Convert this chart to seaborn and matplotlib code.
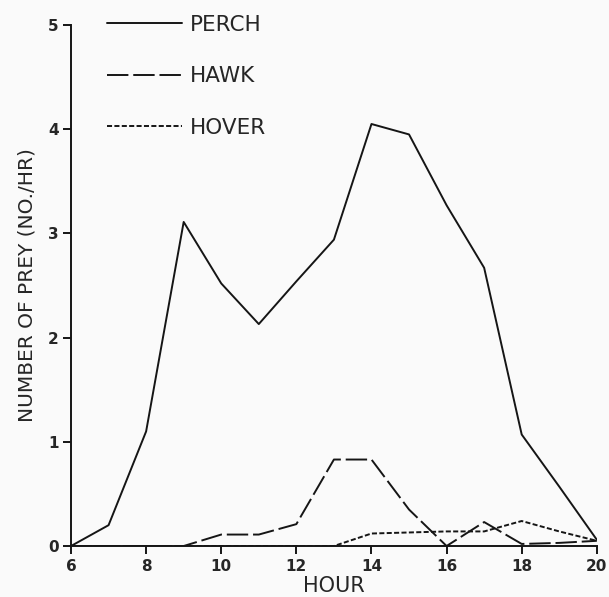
import pandas as pd
import matplotlib
matplotlib.use('Agg')
import matplotlib.pyplot as plt
import seaborn as sns

sns.set_style('ticks')
plt.rcParams['font.family'] = ['DejaVu Sans']

# values (prey per hour)
hours = [6, 7, 8, 9, 10, 11, 12, 13, 14, 15, 16, 17, 18, 19, 20]
perch = [0.0, 0.2, 1.1, 3.11, 2.52, 2.13, 2.54, 2.94, 4.05, 3.95, 3.27, 2.67, 1.07, 0.57, 0.06]
hawk = [0.0, 0.0, 0.0, 0.0, 0.11, 0.11, 0.21, 0.83, 0.83, 0.35, 0.0, 0.23, 0.02, 0.03, 0.05]
hover = [0.0, 0.0, 0.0, 0.0, 0.0, 0.0, 0.0, 0.0, 0.12, 0.13, 0.14, 0.14, 0.24, 0.14, 0.05]
series = ['PERCH', 'HAWK', 'HOVER']

df = pd.concat([
    pd.DataFrame({'HOUR': hours, 'prey': perch, 'series': 'PERCH'}),
    pd.DataFrame({'HOUR': hours, 'prey': hawk, 'series': 'HAWK'}),
    pd.DataFrame({'HOUR': hours, 'prey': hover, 'series': 'HOVER'}),
])

fig = plt.figure(figsize=(6.09, 5.97), dpi=100, facecolor='#fafafa')
ax = fig.add_axes([0.1166, 0.0854, 0.8634, 0.8727])
ax.set_facecolor('#fafafa')

sns.lineplot(data=df, x='HOUR', y='prey', style='series', style_order=series,
             dashes={'PERCH': '', 'HAWK': (11, 2.5), 'HOVER': (2.6, 1.2)},
             color='#151515', linewidth=1.4, ax=ax)

ax.set_xlim(6, 20)
ax.set_ylim(0, 5)
ax.set_xticks(range(6, 21, 2))
ax.set_yticks(range(0, 6))
sns.despine(ax=ax)
for s in ['left', 'bottom']:
    ax.spines[s].set_linewidth(1.4)
    ax.spines[s].set_color('#151515')
ax.tick_params(length=6, width=1.4, color='#151515', labelsize=11, pad=3)
for lab in ax.get_xticklabels() + ax.get_yticklabels():
    lab.set_fontweight('bold')

ax.set_xlabel('HOUR', fontsize=15, labelpad=2)
ax.set_ylabel('NUMBER OF PREY (NO./HR)', fontsize=14.5, labelpad=8)

handles, labels = ax.get_legend_handles_labels()
ax.legend(handles, labels, loc='upper left', bbox_to_anchor=(0.1757, 0.975),
          bbox_transform=fig.transFigure, frameon=False, fontsize=15.5,
          handlelength=3.5, handletextpad=0.33, labelspacing=1.46,
          borderpad=0, borderaxespad=0)

fig.savefig('out.png', dpi=100, facecolor=fig.get_facecolor())
